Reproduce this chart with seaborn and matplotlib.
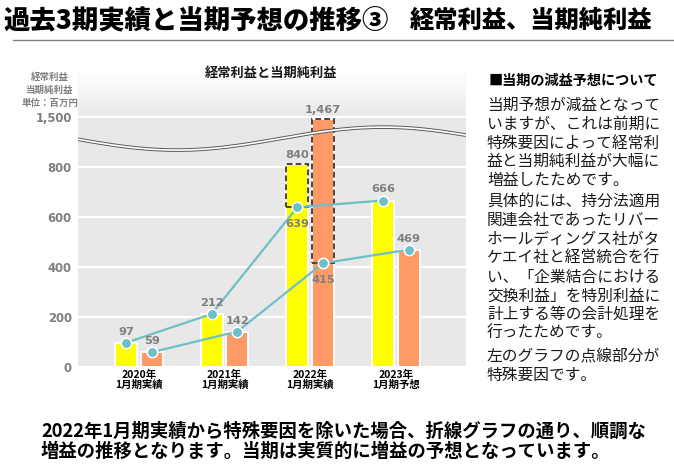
import numpy as np
import pandas as pd
import seaborn as sns
import matplotlib.pyplot as plt
from matplotlib.patches import Rectangle
from matplotlib.lines import Line2D

# Chart data (百万円).
periods = ["2020年\n1月期実績", "2021年\n1月期実績", "2022年\n1月期実績", "2023年\n1月期予想"]
series_names = ["経常利益", "当期純利益"]
ordinary = [97, 212, 840, 666]          # 経常利益 (実績・予想)
net_income = [59, 142, 1467, 469]       # 当期純利益 (実績・予想)
ordinary_adj = [97, 212, 639, 666]      # 特殊要因を除いた経常利益
net_adj = [59, 142, 415, 469]           # 特殊要因を除いた当期純利益
ytick_values = [0, 200, 400, 600, 800, 1500]
ytick_labels = ["0", "200", "400", "600", "800", "1,500"]

# Texts.
page_title = "過去3期実績と当期予想の推移③"
page_subtitle = "経常利益、当期純利益"
chart_title = "経常利益と当期純利益"
unit_lines = ["経常利益", "当期純利益", "単位：百万円"]
note_header = "■当期の減益予想について"
note_paragraphs = [
    ["当期予想が減益となって", "いますが、これは前期に", "特殊要因によって経常利",
     "益と当期純利益が大幅に", "増益したためです。"],
    ["具体的には、持分法適用", "関連会社であったリバー", "ホールディングス社がタ",
     "ケエイ社と経営統合を行", "い、「企業結合における", "交換利益」を特別利益に",
     "計上する等の会計処理を", "行ったためです。"],
    ["左のグラフの点線部分が", "特殊要因です。"],
]
bottom_lines = ["2022年1月期実績から特殊要因を除いた場合、折線グラフの通り、順調な",
                "増益の推移となります。当期は実質的に増益の予想となっています。"]

# Colours.
BAR_COLORS = ["#FFFF00", "#FF9966"]
LINE_COLOR = "#6EBFC8"
LABEL_GREY = "#7F7F7F"

# Broken y axis: values above 800 are squeezed.
BREAK = 800
SQUEEZE = 3.5


def fwd(v):
    v = np.asarray(v, dtype=float)
    return np.where(v > BREAK, BREAK + (v - BREAK) / SQUEEZE, v)


def inv(v):
    v = np.asarray(v, dtype=float)
    return np.where(v > BREAK, BREAK + (v - BREAK) * SQUEEZE, v)


sns.set_theme(style="white")
plt.rcParams['font.family'] = ['Noto Sans CJK JP', 'DejaVu Sans']

W, H = 674, 470
fig = plt.figure(figsize=(W / 100, H / 100), dpi=100)
pos = [78 / W, 1 - 367 / H, 388 / W, 297 / H]

# Background: grey plot area that fades to white at the top.
bg = fig.add_axes(pos, zorder=0)
rows = 300
grad = np.ones((rows, 1, 4))
grey = np.array([232, 232, 232]) / 255
fade_start = 0.835
frac = np.linspace(0, 1, rows)
t = np.clip((frac - fade_start) / (1 - fade_start), 0, 1)
for c in range(3):
    grad[:, 0, c] = grey[c] + (1 - grey[c]) * t
bg.imshow(grad, extent=[0, 1, 0, 1], origin='lower', aspect='auto')
bg.set_axis_off()

ax = fig.add_axes(pos, zorder=1)
ax.set_facecolor('none')

df = pd.DataFrame({
    'period': periods * 2,
    'series': [series_names[0]] * len(periods) + [series_names[1]] * len(periods),
    'value': ordinary + net_income,
})
sns.barplot(data=df, x='period', y='value', hue='series', hue_order=series_names,
            palette=BAR_COLORS, saturation=1, width=0.6, gap=0.14,
            edgecolor='white', linewidth=1.4, errorbar=None, legend=False,
            ax=ax, zorder=2)

ax.set_yscale('function', functions=(fwd, inv))
ax.set_ylim(0, float(inv(1188)))
ax.set_xlim(-0.71, 3.82)

ax.set_yticks(ytick_values, ytick_labels)
ax.grid(axis='y', color='white', lw=1.5)
ax.grid(axis='x', visible=False)
ax.set_axisbelow(True)
for s in ax.spines.values():
    s.set_visible(False)
ax.tick_params(axis='y', length=0, pad=4.5)
ax.tick_params(axis='x', length=0, pad=2)
for lbl in ax.get_yticklabels():
    lbl.set_fontfamily('DejaVu Sans')
    lbl.set_fontweight('bold')
    lbl.set_fontsize(8.4)
    lbl.set_color(LABEL_GREY)
for lbl in ax.get_xticklabels():
    lbl.set_fontweight('bold')
    lbl.set_fontsize(7.5)
    lbl.set_color('black')
    lbl.set_linespacing(1.05)
ax.set_xlabel('')
ax.set_ylabel('')

# Dashed boxes (special factors), lines and value labels.
for container, actual, adj in zip(ax.containers, [ordinary, net_income], [ordinary_adj, net_adj]):
    bars = list(container)
    centers = [b.get_x() + b.get_width() / 2 for b in bars]
    for b, cx, a, d in zip(bars, centers, actual, adj):
        if a != d:
            ax.add_patch(Rectangle((b.get_x(), d), b.get_width(), a - d, fill=False,
                                   ls=(0, (3, 1.6)), ec='#454545', lw=1.4, zorder=3))
            ax.annotate(f"{a:,}", (cx, a), xytext=(0, 4), textcoords='offset pixels',
                        ha='center', va='bottom', fontsize=8.2, fontweight='bold',
                        color=LABEL_GREY, family='DejaVu Sans', zorder=6)
            ax.annotate(f"{d:,}", (cx, d), xytext=(0, -12), textcoords='offset pixels',
                        ha='center', va='top', fontsize=8.2, fontweight='bold',
                        color=LABEL_GREY, family='DejaVu Sans', zorder=6)
        else:
            ax.annotate(f"{a:,}", (cx, a), xytext=(0, 6), textcoords='offset pixels',
                        ha='center', va='bottom', fontsize=8.2, fontweight='bold',
                        color=LABEL_GREY, family='DejaVu Sans', zorder=6)
    ax.plot(centers, adj, color=LINE_COLOR, lw=1.6, marker='o', ms=7.5,
            mfc=LINE_COLOR, mec='white', mew=1.1, zorder=4)

# Wavy break mark across the plot.
xs = np.linspace(0, 1, 300)
ys = 0.769 - 0.0387 * np.cos(np.pi * (xs - 0.255) / 0.531)
ax.plot(xs, ys, transform=ax.transAxes, color='#5A5A5A', lw=2.6, zorder=5,
        solid_capstyle='butt')
ax.plot(xs, ys, transform=ax.transAxes, color='white', lw=1.2, zorder=5,
        solid_capstyle='butt')

# Page title and rule.
fig.text(3 / W, 1 - 20 / H, page_title, fontsize=19, fontweight='heavy',
         va='center', ha='left', color='black')
fig.text(410 / W, 1 - 21 / H, page_subtitle, fontsize=17.5, fontweight='heavy',
         va='center', ha='left', color='black')
fig.add_artist(Line2D([13 / W, 1], [1 - 39.5 / H] * 2, color='#808080', lw=1,
                      transform=fig.transFigure))

# Chart title and unit label.
fig.text(271 / W, 1 - 73 / H, chart_title, fontsize=9.5, fontweight='bold',
         ha='center', va='center', color='#1A1A1A')
for i, line in enumerate(unit_lines):
    fig.text(50 / W, 1 - (76.5 + i * 13.3) / H, line, fontsize=6.8, fontweight='bold',
             ha='center', va='center', color=LABEL_GREY)

# Note on the right.
fig.text(489 / W, 1 - 81 / H, note_header, fontsize=10.2, fontweight='bold',
         ha='left', va='center', color='black')
para_tops = [105.5, 202, 356.5]
for top, para in zip(para_tops, note_paragraphs):
    for i, line in enumerate(para):
        fig.text(487 / W, 1 - (top + i * 18.75) / H, line, fontsize=11.3,
                 ha='left', va='center', color='#1A1A1A')

# Bottom message.
for i, line in enumerate(bottom_lines):
    fig.text(41 / W, 1 - (431.5 + i * 20) / H, line, fontsize=13.2, fontweight='bold',
             ha='left', va='center', color='black')

fig.savefig('out.png', dpi=100)
